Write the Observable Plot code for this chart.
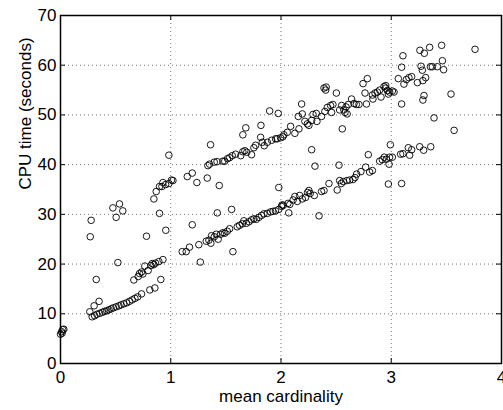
<!DOCTYPE html>
<html>
<head>
<meta charset="utf-8">
<script src="https://cdn.jsdelivr.net/npm/d3@7"></script>
<script src="https://cdn.jsdelivr.net/npm/@observablehq/plot@0.6"></script>
<style>
  html, body { margin: 0; padding: 0; background: #fff; }
</style>
</head>
<body>
<div id="chart"></div>
<script>
const cardinality = [
  0.00, 0.01, 0.02, 0.03, 0.015,
  0.266, 0.305, 0.35, 0.287, 0.31, 0.33, 0.355, 0.38, 0.40, 0.42, 0.44, 0.46, 0.48, 0.505, 0.53, 0.55, 0.575, 0.60, 0.625, 0.65, 0.675, 0.70, 0.735,
  0.665, 0.705, 0.717, 0.735, 0.747, 0.765, 0.795, 0.82, 0.832, 0.847, 0.862, 0.892, 0.929, 0.81, 0.856, 0.91,
  0.324, 0.52, 0.27, 0.78, 0.955, 0.278, 0.475, 0.535, 0.505, 0.565, 0.898,
  0.847, 0.868, 0.898, 0.92, 0.929, 0.953, 0.983, 1.007, 1.02, 0.983,
  1.15, 1.195, 1.237, 1.331, 1.337, 1.352, 1.361, 1.395, 1.42, 1.44, 1.473, 1.49, 1.515, 1.534, 1.558, 1.588, 1.635, 1.654, 1.681, 1.654, 1.672, 1.69, 1.733, 1.754, 1.77, 1.818, 1.815, 1.83, 1.848, 1.876, 1.897, 1.915, 1.951, 1.975, 1.98, 1.996, 2.026,
  1.104, 1.14, 1.17, 1.195, 1.255, 1.268, 1.322, 1.346, 1.364, 1.37, 1.395, 1.413, 1.43, 1.452, 1.473, 1.49, 1.513, 1.534, 1.422, 1.552, 1.564, 1.603, 1.624, 1.649, 1.663, 1.685, 1.709, 1.733, 1.754, 1.776, 1.8, 1.824, 1.845, 1.876, 1.906, 1.927, 1.95, 1.98, 2.005, 2.01,
  2.02, 2.063, 2.07, 2.08, 2.11, 2.126, 2.148, 2.169, 2.193, 2.223, 2.241, 2.253, 2.265, 2.302, 2.345, 2.368, 2.39, 2.435, 2.51, 2.532, 2.547, 2.565, 2.598, 2.623, 2.653, 2.671, 2.686, 2.725, 2.768, 2.804, 2.829, 2.792, 2.895, 2.919, 2.937, 2.956, 2.985, 3.01, 2.98, 2.992, 2.974, 2.278, 2.308, 2.526,
  3.085, 3.106, 3.167, 3.155, 3.185, 3.258, 3.294, 3.358, 3.094, 3.57, 3.388,
  1.966, 2.017, 2.057, 2.087, 2.126, 2.163, 2.157, 2.187, 2.193, 2.217, 2.239, 2.253, 2.278, 2.29, 2.32, 2.326, 2.368, 2.398, 2.42, 2.45, 2.471, 2.459, 2.39, 2.405, 2.41, 2.502, 2.532, 2.55, 2.57, 2.58, 2.59, 2.6, 2.556, 2.611, 2.64, 2.662, 2.683, 2.707, 2.744, 2.783, 2.762, 2.775, 2.829, 2.853, 2.874, 2.834, 2.907, 2.895, 2.934, 2.95, 2.965, 2.985, 3.01, 3.025, 2.95, 2.974,
  3.064, 3.094, 3.106, 3.094, 3.115, 3.137, 3.16, 3.185, 3.237, 3.26, 3.3, 3.348, 3.27, 3.282, 3.287, 3.312, 3.355, 3.373, 3.418, 3.457, 3.464, 3.475, 3.297, 3.287, 3.542, 3.76
];
const cpuTime = [
  5.9, 6.4, 6.8, 6.9, 6.1,
  10.4, 11.6, 12.5, 9.4, 9.6, 9.9, 10.1, 10.3, 10.5, 10.6, 10.8, 11.0, 11.2, 11.4, 11.6, 11.8, 12.0, 12.2, 12.5, 12.8, 13.1, 13.4, 14.0,
  16.8, 17.5, 18.1, 18.4, 18.0, 19.6, 18.7, 19.7, 20.1, 19.9, 20.2, 20.5, 20.9, 14.8, 15.2, 16.9,
  16.9, 20.3, 25.5, 25.6, 26.8, 28.8, 31.3, 32.1, 29.4, 30.7, 30.2,
  33.1, 34.6, 35.6, 35.6, 36.4, 36.0, 36.2, 36.9, 36.8, 41.9,
  37.6, 38.3, 36.4, 37.3, 39.8, 40.1, 44.0, 40.5, 40.6, 35.8, 40.7, 40.7, 41.2, 41.4, 41.8, 42.1, 41.8, 46.0, 47.4, 42.6, 42.8, 42.5, 42.0, 43.4, 43.9, 47.9, 45.5, 44.5, 43.8, 44.5, 50.8, 44.9, 45.2, 50.3, 35.4, 45.4, 46.0,
  22.5, 22.5, 23.4, 27.9, 23.9, 20.4, 24.6, 24.8, 24.2, 25.7, 25.5, 26.0, 25.0, 26.0, 26.3, 26.2, 26.6, 27.1, 30.3, 31.0, 22.5, 27.5, 27.8, 28.1, 28.7, 28.2, 28.5, 28.9, 29.1, 29.0, 29.4, 29.8, 30.1, 30.2, 30.5, 30.6, 30.7, 31.0, 31.6, 31.9,
  31.8, 32.2, 30.3, 32.0, 32.9, 33.6, 32.6, 33.8, 33.1, 33.4, 34.4, 34.8, 34.2, 33.8, 29.7, 34.6, 34.8, 36.2, 34.9, 36.8, 36.2, 36.6, 36.8, 36.9, 37.0, 37.4, 38.1, 38.6, 39.5, 38.5, 38.8, 42.0, 40.7, 41.0, 41.5, 41.1, 41.5, 41.5, 40.1, 44.0, 36.1, 43.0, 39.7, 39.9,
  42.1, 42.2, 41.9, 43.4, 43.0, 43.6, 42.9, 43.6, 36.2, 46.9, 49.4,
  45.2, 45.6, 46.5, 47.7, 46.3, 47.2, 49.7, 52.2, 50.2, 48.7, 48.2, 47.9, 48.9, 50.1, 50.3, 48.7, 49.7, 50.7, 51.5, 51.9, 52.1, 50.5, 55.4, 55.0, 55.6, 54.4, 51.0, 51.9, 51.0, 50.5, 51.6, 50.2, 47.2, 52.1, 53.2, 52.3, 52.1, 52.1, 56.3, 57.3, 54.4, 52.2, 54.0, 54.4, 54.6, 53.2, 53.6, 55.0, 55.7, 55.9, 54.9, 54.6, 54.8, 54.6, 55.4, 54.2,
  57.3, 59.6, 61.9, 52.2, 56.2, 57.1, 57.5, 57.7, 56.5, 63.0, 62.4, 63.6, 59.8, 59.0, 56.9, 57.5, 59.7, 59.7, 59.7, 64.0, 60.9, 59.1, 53.9, 53.0, 54.2, 63.2
];
const xTicks = [0, 1, 2, 3, 4];
const yTicks = [0, 10, 20, 30, 40, 50, 60, 70];
const xLabel = "mean cardinality";
const yLabel = "CPU time (seconds)";

const points = cardinality.map((c, i) => ({ c, t: cpuTime[i] }));

const W = 503, H = 410, mL = 60, mR = 2, mT = 15, mB = 47;
const fw = W - mL - mR, fh = H - mT - mB;
const tick = 5;
const font = "'Liberation Sans', Arial, Helvetica, sans-serif";
const fs = 17;

const chart = Plot.plot({
  width: W,
  height: H,
  marginLeft: mL,
  marginRight: mR,
  marginTop: mT,
  marginBottom: mB,
  style: { fontFamily: font, fontSize: fs + "px", background: "#fff", color: "#000" },
  x: { domain: [0, 4], ticks: xTicks },
  y: { domain: [0, 70], ticks: yTicks },
  marks: [
    Plot.ruleX(xTicks.slice(1, -1), { x: d => d, stroke: "#000", strokeOpacity: 0.55, strokeDasharray: "1,3" }),
    Plot.ruleY(yTicks.slice(1, -1), { y: d => d, stroke: "#000", strokeOpacity: 0.55, strokeDasharray: "1,3" }),
    Plot.dot(points, { x: "c", y: "t", r: 3.3, stroke: "#000", strokeWidth: 0.9, fill: "none" }),
    Plot.ruleX(xTicks, { x: d => d, insetTop: fh - tick, stroke: "#000" }),
    Plot.ruleX(xTicks, { x: d => d, insetBottom: fh - tick, stroke: "#000" }),
    Plot.ruleY(yTicks, { y: d => d, insetRight: fw - tick, stroke: "#000" }),
    Plot.ruleY(yTicks, { y: d => d, insetLeft: fw - tick, stroke: "#000" }),
    Plot.frame({ stroke: "#000", strokeWidth: 1.5 }),
    Plot.axisX(xTicks, { tickSize: 0, tickPadding: 7, fontSize: fs, label: null }),
    Plot.axisY(yTicks, { tickSize: 0, tickPadding: 4, fontSize: fs, label: null }),
    Plot.text([xLabel], { frameAnchor: "bottom", dy: 38, lineAnchor: "bottom", fontSize: fs, text: d => d }),
    Plot.text([yLabel], { frameAnchor: "left", dx: -30, rotate: -90, lineAnchor: "bottom", fontSize: fs, text: d => d })
  ]
});
document.getElementById("chart").appendChild(chart);
</script>
</body>
</html>
